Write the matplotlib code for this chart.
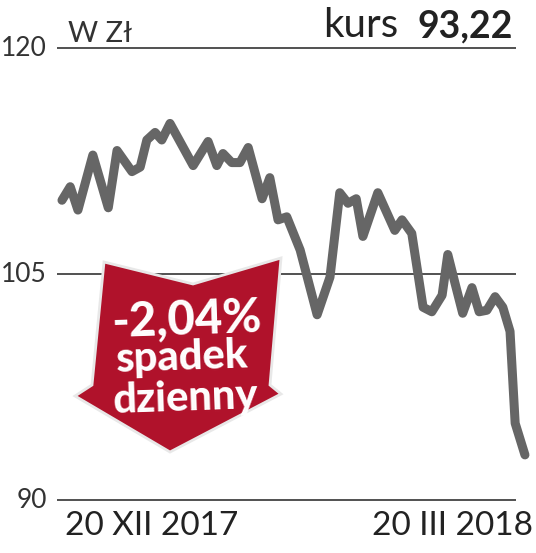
import numpy as np
import matplotlib.pyplot as plt
from matplotlib.patches import Polygon

# dni od 20 XII 2017 i kurs w zł
dni = [0, 1.6, 3.1, 6.0, 9.0, 10.7, 13.6, 15.2, 16.5, 18.1, 19.4, 21.0, 25.5, 28.4,
       30.1, 31.3, 33.0, 34.6, 36.2, 38.9, 40.4, 42.0, 43.7, 46.3, 49.6, 52.1, 54.0,
       55.6, 57.2, 58.5, 61.4, 64.7, 66.1, 68.0, 70.2, 71.9, 73.9, 75.0, 76.4, 77.9,
       79.7, 81.1, 82.6, 84.2, 85.7, 87.1, 88.1, 90.0]
kurs = [109.9, 110.8, 109.25, 112.9, 109.4, 113.2, 111.8, 112.1, 113.9, 114.4, 113.9,
        115.0, 112.2, 113.8, 112.2, 113.0, 112.4, 112.4, 113.4, 110.0, 111.4, 108.6,
        108.8, 106.6, 102.3, 104.8, 110.4, 109.7, 110.0, 107.5, 110.4, 107.9, 108.6,
        107.7, 102.8, 102.5, 103.6, 106.3, 104.4, 102.4, 104.1, 102.5, 102.6, 103.5,
        102.8, 101.2, 95.1, 93.0]
poziomy = [120, 105, 90]
daty = ['20 XII 2017', '20 III 2018']

W, H = 536, 553
def px(x, y):
    return (x / W, 1 - y / H)

fig = plt.figure(figsize=(W / 100, H / 100), dpi=100)
ax = fig.add_axes([0, 0, 1, 1])
ax.set_xlim(-12.05, 92.15)
ax.set_ylim(86.49, 123.19)
ax.axis('off')

ax.hlines(poziomy, -0.97, 88.3, color='#222222', linewidth=1.1, zorder=1)
ax.plot(dni, kurs, color='#666666', linewidth=6.5, solid_joinstyle='round',
        solid_capstyle='round', zorder=2)

for p in poziomy:
    ax.text(-12.05 + 47 * 0.1944, p, str(p), ha='right', va='center',
            fontsize=19, family='Lato', color='#333333')

fig.text(*px(68, 42), 'W Zł', ha='left', va='baseline', fontsize=21,
         family='Lato', color='#333333')
fig.text(*px(398, 37), 'kurs', ha='right', va='baseline', fontsize=29,
         family='Lato', color='#222222')
fig.text(*px(513, 37), '93,22', ha='right', va='baseline', fontsize=27,
         family='Lato', weight='bold', color='#222222')

fig.text(*px(65, 535), daty[0], ha='left', va='baseline', fontsize=24,
         family='Lato', color='#222222')
fig.text(*px(533, 535), daty[1], ha='right', va='baseline', fontsize=24,
         family='Lato', color='#222222')

# czerwona strzałka
strzalka = [px(104, 262), px(193, 284), px(281, 258), px(270, 385), px(281, 394),
            px(170, 452), px(75, 396), px(92, 385)]
fig.patches.append(Polygon(strzalka, closed=True, transform=fig.transFigure,
                           facecolor='#B0122B', edgecolor='#e8e8e8', linewidth=2,
                           joinstyle='miter', zorder=3))
fig.text(*px(187, 337), '-2,04%', ha='center', va='baseline', fontsize=34,
         family='Lato', weight='black', color='white', rotation=2, zorder=4)
fig.text(*px(182, 372), 'spadek', ha='center', va='baseline', fontsize=30,
         family='Lato', weight='black', color='white', rotation=2, zorder=4)
fig.text(*px(186, 413), 'dzienny', ha='center', va='baseline', fontsize=30,
         family='Lato', weight='black', color='white', rotation=2, zorder=4)

fig.savefig('out.png', dpi=100)
